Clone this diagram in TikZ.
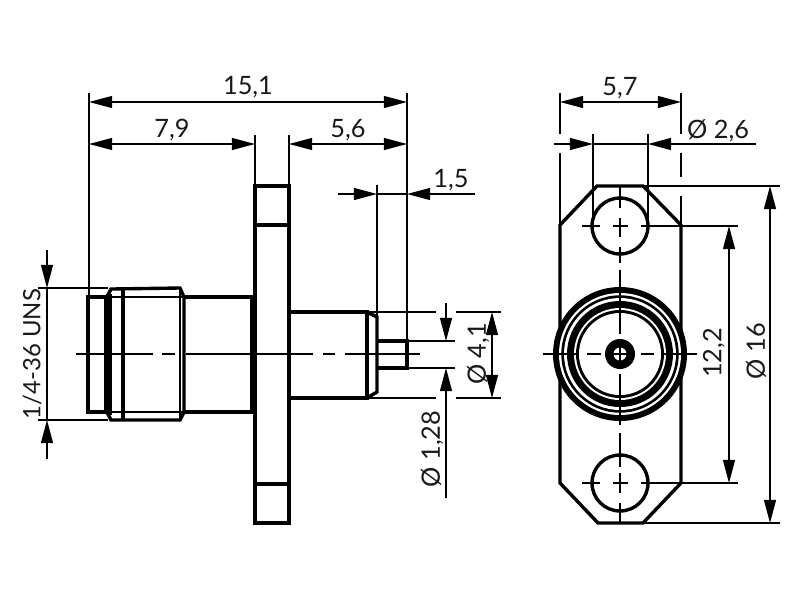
\documentclass[tikz,border=0pt]{standalone}
\usepackage{fontspec}
\setmainfont{Lato}
\usetikzlibrary{arrows.meta}
\tikzset{
  partline/.style={line width=2.4pt},
  midline/.style={line width=1.5pt},
  fineline/.style={line width=1pt},
  axisline/.style={line width=1pt},
  dimtip/.style={-{Triangle[length=0.58cm,width=0.3cm]}, line width=1pt},
  dimboth/.style={{Triangle[length=0.58cm,width=0.3cm]}-{Triangle[length=0.58cm,width=0.3cm]}, line width=1pt},
  dimtext/.style={inner sep=0pt, font=\fontsize{18}{20}\selectfont, text=black!90}
}
\begin{document}
\begin{tikzpicture}[x=0.025cm, y=-0.025cm]
\useasboundingbox (0,0) rectangle (800,600);

% Side view, rear cylinder and nut
\draw[partline] (106,297) rectangle (88,412);
\draw[line width=4.4pt] (109,294) -- (109,415);
\draw[partline] (107,297) -- (111,289) -- (180,288) -- (184,297) -- (184,412) -- (180,420) -- (111,420) -- (107,412);
\draw[midline] (88,297) -- (184,297);
\draw[midline] (88,412) -- (184,412);
\draw[partline] (123,288) -- (123,420);
\draw[midline] (180,288) -- (180,420);

% Side view, front cylinder
\draw[partline] (184,297) -- (255,297);
\draw[partline] (184,412) -- (255,412);
\draw[midline] (251.5,297) -- (251.5,412);

% Side view, flange
\draw[partline] (255,186) rectangle (289,523);
\draw[partline] (255,225) -- (289,225);
\draw[partline] (255,484) -- (289,484);

% Side view, rear end and pin
\draw[partline] (289,312) -- (367,312) -- (367,398) -- (289,398);
\draw[partline] (367,312) -- (377,317) -- (377,392) -- (367,398);
\draw[partline] (378,341) -- (407,341) -- (407,368) -- (378,368);

% Side view, centre line
\draw[axisline] (76,354) -- (153,354);
\draw[axisline] (162,354) -- (175,354);
\draw[axisline] (186,354) -- (313,354);
\draw[axisline] (323,354) -- (335,354);
\draw[axisline] (345,354) -- (420,354);

% Side view, extension lines
\draw[fineline] (89,93) -- (89,297);
\draw[fineline] (407,93) -- (407,341);
\draw[fineline] (255,135) -- (255,186);
\draw[fineline] (289,135) -- (289,186);
\draw[fineline] (377,185) -- (377,317);
\draw[fineline] (38,288) -- (108,288);
\draw[fineline] (38,420) -- (108,420);
\draw[fineline] (367,312) -- (436,312);
\draw[fineline] (456,312) -- (501,312);
\draw[fineline] (367,398) -- (436,398);
\draw[fineline] (456,398) -- (501,398);
\draw[fineline] (407,341) -- (455,341);
\draw[fineline] (407,368) -- (455,368);

% Side view, dimensions
\draw[dimboth] (89,102) -- (407,102);
\draw[dimboth] (89,144) -- (255,144);
\draw[dimboth] (289,144) -- (407,144);
\draw[dimtip] (338,194) -- (377,194);
\draw[dimtip] (475,194) -- (407,194);
\draw[fineline] (377,194) -- (407,194);
\draw[dimtip] (47,250) -- (47,288);
\draw[dimtip] (47,459) -- (47,420);
\draw[fineline] (47,288) -- (47,420);
\draw[dimboth] (492,312) -- (492,398);
\draw[dimtip] (446,303) -- (446,341);
\draw[dimtip] (446,498) -- (446,368);

\node[dimtext] (len) at (248,87) {15,1};
\node[dimtext] (front) at (172,130) {7,9};
\node[dimtext] (rear) at (348,130) {5,6};
\node[dimtext] (pin) at (451,180) {1,5};
\node[dimtext, rotate=90, font=\fontsize{17}{20}\selectfont] (thread) at (32,354) {1/4-36 UNS};
\node[dimtext, rotate=90] (bore) at (478,354) {Ø 4,1};
\node[dimtext, rotate=90] (pindia) at (432,449) {Ø 1,28};

% Front view, plate
\draw[partline] (560,225) -- (597,186) -- (643,186) -- (681,225) -- (681,483) -- (643,523) -- (598,523) -- (560,483) -- cycle;
\draw[partline] (620,226) circle (28);
\draw[partline] (620,483) circle (28);

% Front view, rings
\fill (620,354) circle (67);
\fill[white] (620,354) circle (61);
\fill (620,354) circle (58.7);
\fill[white] (620,354) circle (56);
\fill (620,354) circle (53);
\fill[white] (620,354) circle (46);
\fill (620,354) circle (44);
\fill[white] (620,354) circle (41);
\fill (620,354) circle (15);
\fill[white] (620,354) circle (6.5);

% Front view, centre lines
\draw[axisline] (543,354) -- (579,354);
\draw[axisline] (587,354) -- (601,354);
\draw[axisline] (613,354) -- (627,354);
\draw[axisline] (641,354) -- (654,354);
\draw[axisline] (662,354) -- (697,354);
\draw[axisline] (620,186) -- (620,208);
\draw[axisline] (620,218) -- (620,237);
\draw[axisline] (620,247) -- (620,263);
\draw[axisline] (620,270) -- (620,334);
\draw[axisline] (620,347) -- (620,361);
\draw[axisline] (620,374) -- (620,425);
\draw[axisline] (620,433) -- (620,467);
\draw[axisline] (620,473) -- (620,493);
\draw[axisline] (620,503) -- (620,523);
\draw[axisline] (582,226) -- (600,226);
\draw[axisline] (613,226) -- (628,226);
\draw[axisline] (641,226) -- (738,226);
\draw[axisline] (582,483) -- (600,483);
\draw[axisline] (613,483) -- (628,483);
\draw[axisline] (641,483) -- (738,483);

% Front view, extension lines
\draw[fineline] (560,93) -- (560,134);
\draw[fineline] (560,153) -- (560,225);
\draw[fineline] (681,93) -- (681,134);
\draw[fineline] (681,153) -- (681,177);
\draw[fineline] (681,196) -- (681,225);
\draw[fineline] (593,134) -- (593,226);
\draw[fineline] (648,134) -- (648,226);
\draw[fineline] (645,186) -- (780,186);
\draw[fineline] (645,523) -- (780,523);

% Front view, dimensions
\draw[dimboth] (560,102) -- (681,102);
\draw[dimtip] (554,144) -- (593,144);
\draw[dimtip] (756,144) -- (648,144);
\draw[fineline] (593,144) -- (648,144);
\draw[dimboth] (729,226) -- (729,483);
\draw[dimboth] (770,186) -- (770,523);

\node[dimtext] (width) at (620,88) {5,7};
\node[dimtext] (hole) at (718,131) {Ø 2,6};
\node[dimtext, rotate=90] (pitch) at (714,353) {12,2};
\node[dimtext, rotate=90] (total) at (756,351) {Ø 16};

\end{tikzpicture}
\end{document}
